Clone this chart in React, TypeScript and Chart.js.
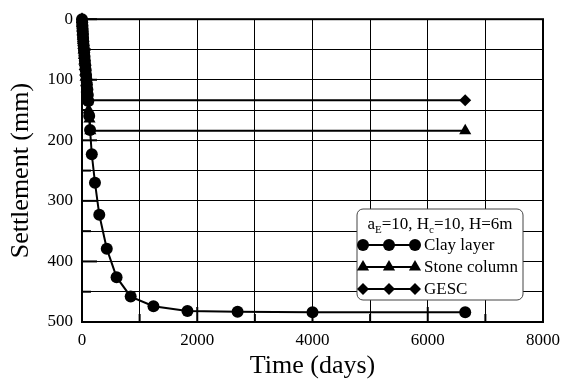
import React, { useEffect, useRef } from "react";
import { Chart, registerables } from "chart.js";

Chart.register(...registerables);

// ---- Data ----
const clayTime = [0, 3, 6, 9, 12, 15, 19, 23, 28, 33, 38, 44, 50, 57, 64, 71, 78, 85, 93, 101, 110, 125, 140, 170, 225, 300, 430, 600, 845, 1240, 1830, 2700, 4000, 6650];
const claySettle = [0, 5, 10, 15, 20, 25, 31, 37, 43, 49, 55, 62, 69, 76, 84, 92, 100, 108, 116, 125, 135, 160, 183, 223, 270, 323, 379, 426, 458, 474, 482, 483, 484, 484];

const stoneTime = [0, 3, 6, 10, 14, 18, 23, 28, 34, 40, 47, 54, 62, 70, 80, 90, 100, 115, 130, 145, 6650];
const stoneSettle = [0, 7, 14, 21, 28, 35, 43, 51, 60, 69, 78, 87, 96, 105, 115, 125, 135, 150, 165, 184, 184];

const gescTime = [0, 3, 6, 10, 14, 18, 23, 28, 34, 40, 47, 54, 62, 70, 80, 90, 105, 6650];
const gescSettle = [0, 6, 12, 18, 24, 30, 37, 44, 52, 60, 68, 76, 85, 94, 104, 118, 134, 134];

const seriesNames = ["Clay layer", "Stone column", "GESC"];
const xTickStep = 1000;
const xLabelStep = 2000;
const yTickStep = 50;
const yLabelStep = 100;

const FONT = '"Liberation Serif", "Times New Roman", serif';

const toPts = (xs: number[], ys: number[]) => xs.map((x, i) => ({ x, y: ys[i] }));

function drawMarker(ctx: CanvasRenderingContext2D, style: string, x: number, y: number, r: number) {
  ctx.beginPath();
  if (style === "circle") {
    ctx.arc(x, y, r, 0, Math.PI * 2);
  } else if (style === "triangle") {
    ctx.moveTo(x, y - r);
    ctx.lineTo(x + r * 0.87, y + r * 0.5);
    ctx.lineTo(x - r * 0.87, y + r * 0.5);
    ctx.closePath();
  } else {
    ctx.moveTo(x, y - r);
    ctx.lineTo(x + r, y);
    ctx.lineTo(x, y + r);
    ctx.lineTo(x - r, y);
    ctx.closePath();
  }
  ctx.fill();
}

const framePlugin = {
  id: "frameTicks",
  beforeDatasetsDraw(chart: any) {
    const { ctx, chartArea: a, scales } = chart;
    const xs = scales.x;
    const ys = scales.y;
    ctx.save();
    ctx.strokeStyle = "#000";
    ctx.lineWidth = 2;
    for (let v = 0; v <= 8000; v += xTickStep) {
      const px = xs.getPixelForValue(v);
      const len = v % xLabelStep === 0 ? 15 : 8;
      ctx.beginPath();
      ctx.moveTo(px, a.bottom);
      ctx.lineTo(px, a.bottom - len);
      ctx.stroke();
    }
    for (let v = 0; v <= 500; v += yTickStep) {
      const py = ys.getPixelForValue(v);
      const len = v % yLabelStep === 0 ? 15 : 9;
      ctx.beginPath();
      ctx.moveTo(a.left, py);
      ctx.lineTo(a.left + len, py);
      ctx.stroke();
    }
    ctx.strokeRect(a.left, a.top, a.right - a.left, a.bottom - a.top);
    ctx.restore();
  },
  afterDraw(chart: any) {
    const { ctx } = chart;
    ctx.save();
    const bx = 357, by = 209, bw = 166, bh = 91, r = 6;
    ctx.beginPath();
    ctx.moveTo(bx + r, by);
    ctx.lineTo(bx + bw - r, by);
    ctx.arcTo(bx + bw, by, bx + bw, by + r, r);
    ctx.lineTo(bx + bw, by + bh - r);
    ctx.arcTo(bx + bw, by + bh, bx + bw - r, by + bh, r);
    ctx.lineTo(bx + r, by + bh);
    ctx.arcTo(bx, by + bh, bx, by + bh - r, r);
    ctx.lineTo(bx, by + r);
    ctx.arcTo(bx, by, bx + r, by, r);
    ctx.closePath();
    ctx.fillStyle = "#fff";
    ctx.fill();
    ctx.strokeStyle = "#444";
    ctx.lineWidth = 1;
    ctx.stroke();

    const parts: [string, boolean][] = [
      ["a", false], ["E", true], ["=10, H", false], ["c", true], ["=10, H=6m", false],
    ];
    const mainFont = `17px ${FONT}`;
    const subFont = `11px ${FONT}`;
    let total = 0;
    for (const [t, s] of parts) {
      ctx.font = s ? subFont : mainFont;
      total += ctx.measureText(t).width;
    }
    let tx = 440 - total / 2;
    const ty = 229;
    ctx.fillStyle = "#000";
    ctx.textBaseline = "alphabetic";
    ctx.textAlign = "left";
    for (const [t, s] of parts) {
      ctx.font = s ? subFont : mainFont;
      ctx.fillText(t, tx, s ? ty + 4 : ty);
      tx += ctx.measureText(t).width;
    }

    const rows = [245, 267, 289];
    const styles = ["circle", "triangle", "rectRot"];
    const radii = [6, 7, 6];
    rows.forEach((ry, i) => {
      ctx.strokeStyle = "#000";
      ctx.lineWidth = 2;
      ctx.beginPath();
      ctx.moveTo(363, ry);
      ctx.lineTo(415, ry);
      ctx.stroke();
      ctx.fillStyle = "#000";
      [363, 389, 415].forEach((mx) => drawMarker(ctx, styles[i], mx, ry, radii[i]));
      ctx.font = mainFont;
      ctx.textBaseline = "middle";
      ctx.fillText(seriesNames[i], 424, ry + 1);
    });
    ctx.restore();
  },
};

export default function App() {
  const ref = useRef<HTMLCanvasElement | null>(null);
  useEffect(() => {
    if (!ref.current) return;
    const mk = (label: string, data: any, style: string, radius: number) => ({
      label,
      data,
      showLine: true,
      clip: false,
      borderColor: "#000",
      backgroundColor: "#000",
      borderWidth: 2,
      pointStyle: style,
      pointRadius: radius,
      pointBorderWidth: 0,
      pointBackgroundColor: "#000",
      tension: 0,
    });
    const chart = new Chart(ref.current, {
      type: "scatter",
      data: {
        datasets: [
          mk(seriesNames[0], toPts(clayTime, claySettle), "circle", 6),
          mk(seriesNames[1], toPts(stoneTime, stoneSettle), "triangle", 7),
          mk(seriesNames[2], toPts(gescTime, gescSettle), "rectRot", 6),
        ],
      },
      options: {
        animation: false,
        responsive: false,
        devicePixelRatio: 1,
        layout: { padding: { left: 0, top: 14, right: 21, bottom: 0 } },
        plugins: { legend: { display: false }, tooltip: { enabled: false } },
        scales: {
          x: {
            type: "linear",
            min: 0,
            max: 8000,
            afterFit: (s: any) => { s.height = 60; },
            border: { display: false },
            grid: { color: "#000", lineWidth: 1, drawTicks: false },
            ticks: {
              stepSize: xTickStep,
              padding: 8,
              color: "#000",
              font: { family: FONT, size: 17 },
              maxRotation: 0,
              autoSkip: false,
              callback: (v: any) => (Number(v) % xLabelStep === 0 ? String(v) : ""),
            },
            title: {
              display: true,
              text: "Time (days)",
              color: "#000",
              font: { family: FONT, size: 26 },
              padding: { top: 0, bottom: 0 },
            },
          },
          y: {
            type: "linear",
            reverse: true,
            min: 0,
            max: 500,
            afterFit: (s: any) => { s.width = 82; },
            border: { display: false },
            grid: { color: "#000", lineWidth: 1, drawTicks: false },
            ticks: {
              stepSize: yTickStep,
              padding: 9,
              color: "#000",
              font: { family: FONT, size: 17 },
              autoSkip: false,
              callback: (v: any) => (Number(v) % yLabelStep === 0 ? String(v) : ""),
            },
            title: {
              display: true,
              text: "Settlement (mm)",
              color: "#000",
              font: { family: FONT, size: 26 },
              padding: { top: 6, bottom: 0 },
            },
          },
        },
      },
      plugins: [framePlugin],
    } as any);
    return () => chart.destroy();
  }, []);
  return (
    <div style={{ position: "fixed", left: 0, top: 0, width: 568, height: 382, background: "#fff" }}>
      <canvas ref={ref} width={568} height={382} style={{ display: "block" }} />
    </div>
  );
}
